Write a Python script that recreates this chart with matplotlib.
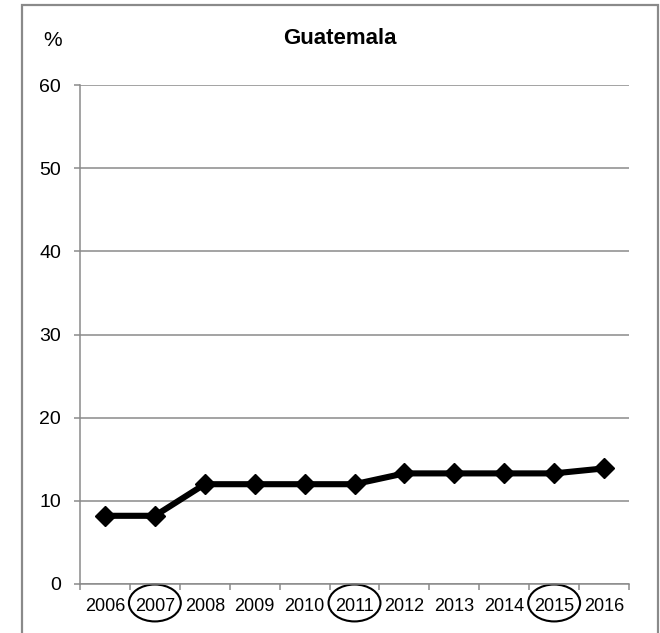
import matplotlib.pyplot as plt
import numpy as np
from matplotlib.patches import Ellipse, Rectangle
from matplotlib.transforms import blended_transform_factory

plt.rcParams['font.family'] = ['Liberation Sans', 'DejaVu Sans']

# Datos
years = ['2006', '2007', '2008', '2009', '2010', '2011',
         '2012', '2013', '2014', '2015', '2016']
values = [8.2, 8.2, 12.0, 12.0, 12.0, 12.0, 13.3, 13.3, 13.3, 13.3, 13.9]
highlight = ['2007', '2011', '2015']
yticks = [0, 10, 20, 30, 40, 50, 60]

gray = '#8a8a8a'

fig = plt.figure(figsize=(6.6, 6.33), dpi=100)
ax = fig.add_axes([80 / 660, 49 / 633, 549 / 660, 499 / 633])

x = np.arange(len(years))
ax.plot(x, values, color='black', lw=4.4, marker='D', ms=10.5,
        solid_joinstyle='miter', zorder=5)

# Ejes y rejilla
ax.set_xlim(-0.5, len(years) - 0.5)
ax.set_ylim(0, 60)
ax.set_yticks(yticks)
ax.set_xticks(x)
ax.set_xticklabels(years)
ax.set_xticks(np.arange(len(years) + 1) - 0.5, minor=True)
ax.tick_params(axis='x', which='major', length=0, pad=10, labelsize=13)
ax.tick_params(axis='x', which='minor', length=4.5, width=1.1, color=gray)
ax.tick_params(axis='y', length=4.5, width=1.1, color=gray, pad=9, labelsize=14)
ax.grid(axis='y', color=gray, lw=1.1)
ax.set_axisbelow(True)
for s in ['top', 'right']:
    ax.spines[s].set_visible(False)
for s in ['left', 'bottom']:
    ax.spines[s].set_color(gray)
    ax.spines[s].set_linewidth(1.1)

# Elipses alrededor de los años destacados
tr = blended_transform_factory(ax.transData, ax.transAxes)
for yr in highlight:
    i = years.index(yr)
    e = Ellipse((i, -0.038), 1.04, 0.074, transform=tr, fill=False,
                ec='black', lw=1.5, clip_on=False)
    ax.add_patch(e)

# Titulos
fig.text(340 / 660, 1 - 39 / 633, 'Guatemala', ha='center', va='center',
         fontsize=16, fontweight='bold')
fig.text(53 / 660, 1 - 40 / 633, '%', ha='center', va='center', fontsize=15)

# Marco
fig.patches.append(Rectangle((22 / 660, -0.05), 636 / 660, 1.05 - 5 / 633,
                             transform=fig.transFigure, fill=False,
                             ec=gray, lw=1.6))

fig.savefig('out.png', dpi=100)
